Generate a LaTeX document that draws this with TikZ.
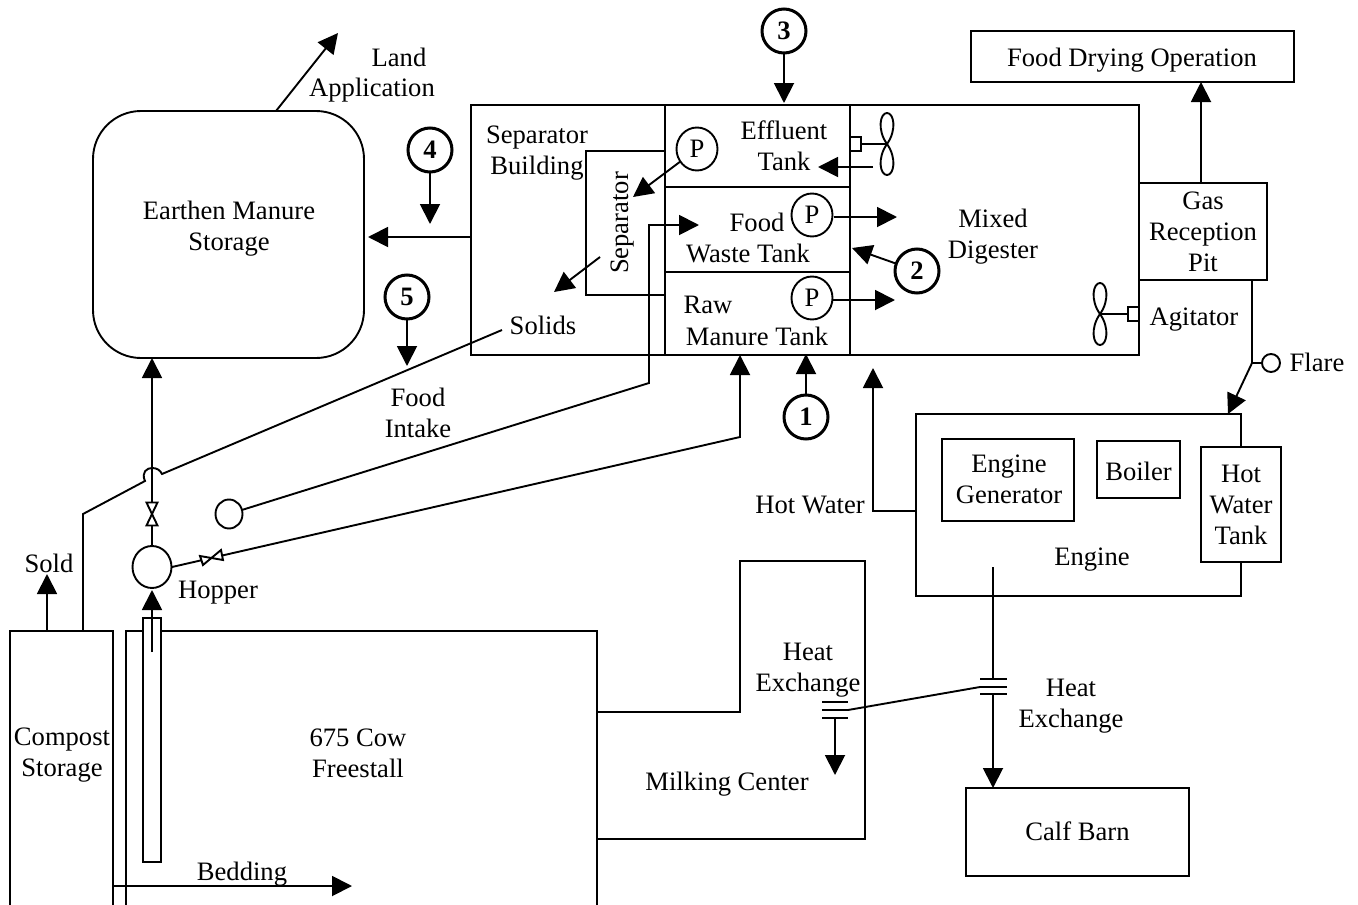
\documentclass[tikz,border=0pt]{standalone}
\usepackage{fontspec}
\setmainfont{Liberation Serif}
\usetikzlibrary{arrows.meta,shapes.geometric}
\tikzset{
  lbl/.style={inner sep=0pt,outer sep=0pt,align=center,font=\fontsize{26.6}{31}\selectfont},
  boxn/.style={draw=black,line width=1.9pt,inner sep=0pt,outer sep=0pt,align=center,font=\fontsize{26.6}{31}\selectfont,rectangle},
  num/.style={draw=black,circle,line width=3pt,inner sep=0pt,outer sep=0pt,minimum size=44pt,font=\bfseries\fontsize{26.6}{31}\selectfont},
  pump/.style={draw=black,ellipse,line width=1.9pt,inner sep=0pt,outer sep=0pt,minimum width=41pt,minimum height=43pt,font=\fontsize{26.6}{31}\selectfont},
  pipe/.style={draw=black,line width=1.9pt,line join=miter},
  flow/.style={pipe,-{Triangle[length=20pt,width=20pt]}},
  thick line/.style={draw=black,line width=2.2pt},
}
\newcommand{\fanblades}[3]{%
  % centre x, centre y, half length
  \draw[pipe] (#1,#2) .. controls (#1-10,#2-#3*0.45) and (#1-7,#2-#3) .. (#1,#2-#3)
     .. controls (#1+7,#2-#3) and (#1+10,#2-#3*0.45) .. (#1,#2)
     .. controls (#1-10,#2+#3*0.45) and (#1-7,#2+#3) .. (#1,#2+#3)
     .. controls (#1+7,#2+#3) and (#1+10,#2+#3*0.45) .. (#1,#2);
}
\begin{document}
\begin{tikzpicture}[x=1pt,y=-1pt]
\useasboundingbox (0,0) rectangle (1358,905);
% main containers
\node[boxn,rounded corners=48pt,minimum width=271pt,minimum height=247pt] (storage) at (228.5,234.5) {};
\node[lbl] (storagelbl) at (229,228.5) {Earthen Manure\\Storage};
\node[boxn,minimum width=194pt,minimum height=250pt] (sepbldg) at (568,230) {};
\node[boxn,minimum width=185pt,minimum height=82pt] (efftank) at (757.5,146) {};
\node[boxn,minimum width=185pt,minimum height=85pt] (foodtank) at (757.5,229.5) {};
\node[boxn,minimum width=185pt,minimum height=83pt] (rawtank) at (757.5,313.5) {};
\node[boxn,minimum width=289pt,minimum height=250pt] (digester) at (994.5,230) {};
\node[boxn,minimum width=128pt,minimum height=97pt] (gaspit) at (1203,231.5) {Gas\\Reception\\Pit};
\node[boxn,minimum width=323pt,minimum height=51pt] (dryer) at (1132.5,56.5) {};
\node[lbl] (dryerlbl) at (1132,60.5) {Food Drying Operation};
\node[boxn,minimum width=325pt,minimum height=182pt] (engine) at (1078.5,505) {};
\node[boxn,minimum width=132pt,minimum height=82pt] (enggen) at (1008,480) {};
\node[lbl] (enggenlbl) at (1009,479) {Engine\\Generator};
\node[boxn,minimum width=83pt,minimum height=57pt] (boiler) at (1138.5,469.5) {};
\node[lbl] (boilerlbl) at (1138.5,471.5) {Boiler};
\node[boxn,fill=white,minimum width=80pt,minimum height=115pt] (hwtank) at (1241,504.5) {Hot\\Water\\Tank};
\node[boxn,minimum width=223pt,minimum height=88pt] (calf) at (1077.5,832) {};
\node[lbl] (calflbl) at (1077.5,831) {Calf Barn};
% labels
\node[lbl] (sepbldglbl) at (537,153) {Separator\\Building};
\node[lbl] (efflbl) at (784,146) {Effluent\\Tank};
\node[lbl] (foodlbl) at (757,222) {Food};
\node[lbl] (wastelbl) at (748,253) {Waste Tank};
\node[lbl] (rawlbl) at (708,305) {Raw};
\node[lbl] (manurelbl) at (757,336) {Manure Tank};
\node[lbl] (mixedlbl) at (993,237) {Mixed\\Digester};
\node[lbl] (solids) at (543,325) {Solids};
\node[lbl] (intake) at (418,413) {Food\\Intake};
\node[lbl] (hopperlbl) at (218,593) {Hopper};
\node[lbl] (sold) at (49,563) {Sold};
\node[lbl] (compost) at (62,755) {Compost\\Storage};
\node[lbl] (cows) at (358,753) {675 Cow\\Freestall};
\node[lbl] (bedding) at (242,874) {Bedding};
\node[lbl] (hx1lbl) at (808,670) {Heat\\Exchange};
\node[lbl] (milk) at (727,784) {Milking Center};
\node[lbl] (hx2lbl) at (1071,706) {Heat\\Exchange};
\node[lbl] (enginelbl) at (1092,560) {Engine};
\node[lbl] (hotwater) at (810,505) {Hot Water};
\node[lbl] (agitator) at (1194,320) {Agitator};
\node[lbl] (flarelbl) at (1317,362) {Flare};
\node[lbl] (land) at (399,57) {Land};
\node[lbl] (application) at (372,90) {Application};
\node[lbl,rotate=90] (seplbl) at (623,223) {Separator};
% circled numbers
\node[num] (n3) at (784,31) {3};
\node[num] (n4) at (430,150) {4};
\node[num] (n5) at (407,297) {5};
\node[num] (n1) at (806,417) {1};
\node[num] (n2) at (917,271) {2};
% pumps, hopper
\node[pump] (p1) at (697,149) {P};
\node[pump] (p2) at (812,215) {P};
\node[pump] (p3) at (812,298) {P};
\node[pump,minimum width=39pt,minimum height=42pt] (hopper) at (152,567) {};
\node[pump,minimum width=27pt,minimum height=29pt] (intakeball) at (229,514) {};
\node[pump,minimum width=18pt,minimum height=18pt] (flare) at (1271,363) {};
% outlines without a closed side
\draw[pipe] (126,905) -- (126,631) -- (597,631) -- (597,905);
\draw[pipe] (10,905) -- (10,631) -- (113,631) -- (113,905);
\draw[pipe] (597,712) -- (740,712) -- (740,561) -- (865,561) -- (865,839) -- (597,839);
\draw[pipe] (665,151) -- (586,151) -- (586,295) -- (665,295);
\node[boxn,fill=white,minimum width=18pt,minimum height=244pt] (gutter) at (152,740) {};
% coordinates of free ends
\coordinate (landtip) at (338,33);
\coordinate (landstart) at (276,111);
\coordinate (gutterin) at (152,652);
\coordinate (sepout) at (600,257);
\coordinate (septip) at (554,292);
\coordinate (p1tip) at (633,197);
\coordinate (p2tip) at (897,217);
\coordinate (p3tip) at (895,300);
\coordinate (n2tip) at (852,248);
\coordinate (fanflow) at (873,167);
\coordinate (fanflowtip) at (818,167);
% arrows
\draw[flow] (landstart) -- (landtip);
\draw[flow] (n3) -- (784,103);
\draw[flow] (n4) -- (430,224);
\draw[flow] (n5) -- (407,366);
\draw[flow] (n1) -- (806,354);
\draw[flow] (n2) -- (n2tip);
\draw[flow] (471,237) -- (368,237);
\draw[flow] (1201,183) -- (1201,82);
\draw[flow] (p1) -- (p1tip);
\draw[flow] (sepout) -- (septip);
\draw[flow] (834,217) -- (p2tip);
\draw[flow] (833,300) -- (p3tip);
\draw[flow] (fanflow) -- (fanflowtip);
\draw[flow] (47,631) -- (47,574);
\draw[flow] (gutterin) -- (152,590);
\draw[flow] (113,886) -- (352,886);
% hopper to storage
\draw[flow] (hopper) -- (152,358);
\draw[pipe,fill=white] (146.5,502.5) -- (157.5,502.5) -- (146.5,525.5) -- (157.5,525.5) -- cycle;
% hopper to raw manure tank
\draw[flow] (172,567) -- (740,437) -- (740,355);
\draw[pipe,fill=white] (200,556) -- (203,565) -- (221,550) -- (223,560) -- cycle;
% intake
\draw[flow] (intakeball) -- (649,383) -- (649,225) -- (699,225);
% solids with jump
\draw[pipe] (83,631) -- (83,514) -- (145,481) .. controls (141,472) and (147,468) .. (152,468) .. controls (157,468) and (160,470) .. (162,474) -- (502,330);
% hot water
\draw[flow] (916,511) -- (873,511) -- (873,368);
% gas line
\draw[pipe] (1252,280) -- (1252,363);
\draw[pipe] (1252,363) -- (flare);
\draw[flow] (1252,363) -- (1228,414);
% heat exchangers
\draw[pipe] (993,567) -- (993,679);
\draw[pipe] (980,679) -- (1007,679);
\draw[pipe] (980,687) -- (1007,687);
\draw[thick line] (980,694) -- (1007,694);
\draw[flow] (993,694) -- (993,788);
\draw[pipe] (822,702) -- (848,702);
\draw[pipe] (822,710) -- (848,710);
\draw[thick line] (822,718) -- (848,718);
\draw[pipe] (848,710) -- (980,687);
\draw[flow] (835,718) -- (835,775);
% agitators
\node[boxn,minimum width=11pt,minimum height=14pt] (fan1hub) at (855.5,144) {};
\draw[pipe] (fan1hub.east) -- (887,144);
\fanblades{887}{144}{31}
\node[boxn,minimum width=11pt,minimum height=14pt] (fan2hub) at (1133.5,314) {};
\draw[pipe] (fan2hub.west) -- (1100,314);
\fanblades{1100}{314}{31}
\end{tikzpicture}
\end{document}
